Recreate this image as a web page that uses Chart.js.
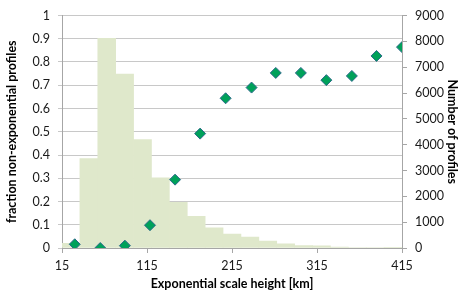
<!DOCTYPE html>
<html>
<head>
<meta charset="utf-8">
<script src="https://cdn.jsdelivr.net/npm/chart.js@4"></script>
<style>
  html, body { margin: 0; padding: 0; background: #fff; }
  #wrap { width: 461px; height: 295px; }
</style>
</head>
<body>
<div id="wrap"><canvas id="chart" width="461" height="295"></canvas></div>
<script>
// histogram bins (19 bars, number of profiles, right axis)
const binLabels = ['b1','b2','b3','b4','b5','b6','b7','b8','b9','b10','b11','b12','b13','b14','b15','b16','b17','b18','b19'];
const profileCounts = [180, 3460, 8120, 6730, 4200, 2720, 1770, 1225, 780, 536, 420, 270, 165, 95, 85, 40, 20, 20, 15];

// fraction of non-exponential profiles (left axis)
const scaleHeights = [30, 60, 89, 118.5, 148, 177.5, 207.5, 238, 266.5, 296, 326, 356, 385, 415];
const fractions = [0.016, 0, 0.01, 0.098, 0.294, 0.492, 0.644, 0.69, 0.753, 0.753, 0.722, 0.74, 0.826, 0.864];

const xTicks = [15, 115, 215, 315, 415];

const font = "Lato, 'Noto Sans', sans-serif";
const plain = (v) => String(Math.round(v * 1000) / 1000);
const tickFont = { family: font, size: 12.5 };
const titleFont = { family: font, size: 12.5, weight: 'bold' };

document.addEventListener('DOMContentLoaded', () => {
  const ctx = document.getElementById('chart');
  new Chart(ctx.getContext('2d'), {
    type: 'bar',
    data: {
      labels: binLabels,
      datasets: [
        {
          type: 'scatter',
          label: 'fraction',
          data: scaleHeights.map((x, i) => ({ x: x, y: fractions[i] })),
          xAxisID: 'x',
          yAxisID: 'y',
          pointStyle: 'rectRot',
          pointRadius: 5.5,
          backgroundColor: '#00a15a',
          borderColor: '#2d6a8a',
          borderWidth: 1,
          showLine: false,
          order: 0
        },
        {
          label: 'Number of profiles',
          data: profileCounts,
          xAxisID: 'xc',
          yAxisID: 'y2',
          backgroundColor: '#dfe8cb',
          borderWidth: 0,
          grouped: false,
          barPercentage: 1,
          categoryPercentage: 1,
          order: 1
        }
      ]
    },
    options: {
      responsive: false,
      animation: false,
      layout: { padding: { top: 13, left: 0, right: 0, bottom: 0 } },
      plugins: {
        legend: { display: false },
        tooltip: { enabled: false }
      },
      scales: {
        xc: {
          type: 'category',
          display: false,
          offset: true,
          grid: { display: false }
        },
        x: {
          type: 'linear',
          position: 'bottom',
          offset: false,
          min: 15,
          max: 415,
          afterBuildTicks: (s) => { s.ticks = xTicks.map(v => ({ value: v })); },
          afterFit: (s) => { s.height = 47; },
          grid: { offset: false, drawOnChartArea: false, tickLength: 5, color: '#a6a6a6' },
          border: { color: '#a6a6a6' },
          ticks: { padding: 5, color: '#1a1a1a', font: tickFont, maxRotation: 0, callback: plain },
          title: {
            display: true,
            text: 'Exponential scale height [km]',
            color: '#000',
            font: titleFont,
            padding: { top: 0, bottom: 4 }
          }
        },
        y: {
          position: 'left',
          min: 0,
          max: 1,
          afterFit: (s) => { s.width = 62; },
          grid: { color: '#c8c8c8', tickLength: 4, lineWidth: 1 },
          border: { color: '#a6a6a6' },
          ticks: { stepSize: 0.1, padding: 8, color: '#1a1a1a', font: tickFont, callback: plain },
          title: {
            display: true,
            text: 'fraction non-exponential profiles',
            color: '#000',
            font: titleFont,
            padding: { top: 4, bottom: 0 }
          }
        },
        y2: {
          position: 'right',
          min: 0,
          max: 9000,
          afterFit: (s) => { s.width = 59; },
          grid: { drawOnChartArea: false, tickLength: 5, color: '#a6a6a6' },
          border: { color: '#a6a6a6' },
          ticks: { stepSize: 1000, padding: 8, color: '#1a1a1a', font: tickFont, callback: plain },
          title: {
            display: true,
            text: 'Number of profiles',
            color: '#000',
            font: titleFont,
            padding: { top: 1, bottom: 0 }
          }
        }
      }
    }
  });
});
</script>
</body>
</html>
